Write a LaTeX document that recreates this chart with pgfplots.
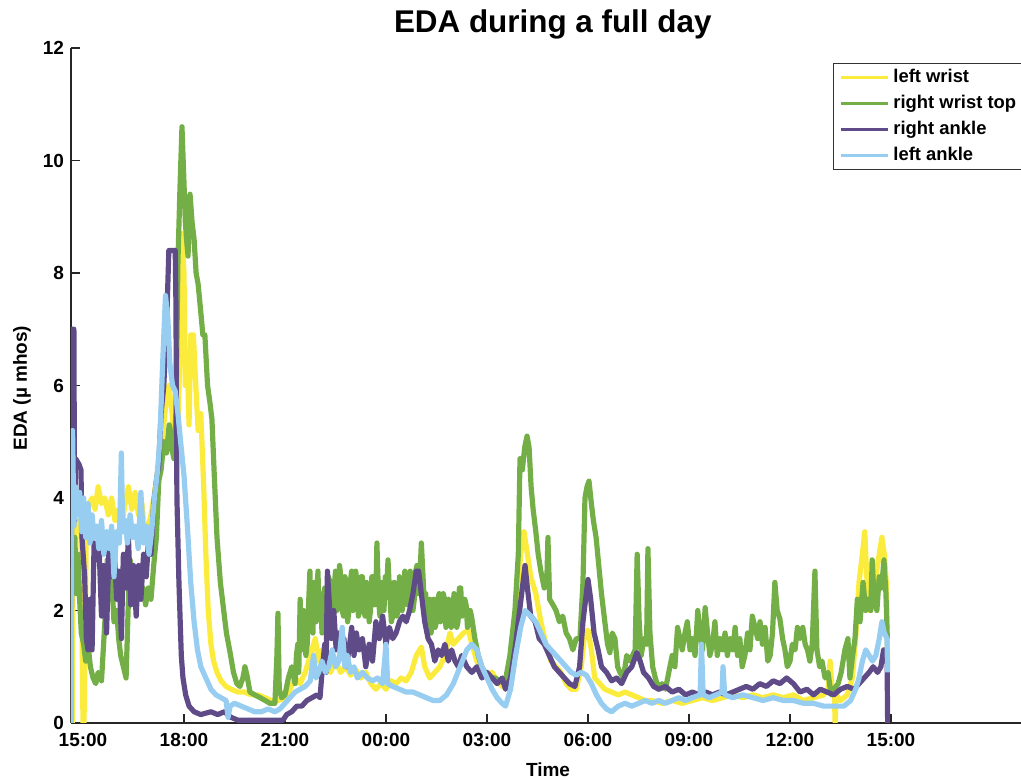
\documentclass[border=0pt]{standalone}
\usepackage{fontspec}
\setmainfont{Liberation Sans}
\usepackage{pgfplots}
\pgfplotsset{compat=1.18}
\definecolor{cyel}{RGB}{250,235,60}
\definecolor{cgrn}{RGB}{115,175,70}
\definecolor{cpur}{RGB}{95,75,135}
\definecolor{cblu}{RGB}{150,205,240}
\begin{document}
\begin{tikzpicture}
\begin{axis}[name=ax, scale only axis, width=477pt, height=337.5pt,
 xmin=-0.356, xmax=27.98, ymin=0, ymax=12,
 axis lines=left, axis line style={-, line width=0.6pt, black!85},
 tick align=inside, major tick length=4.5pt, tick style={black!85, line width=0.6pt},
 xtick={0,3,...,24}, xticklabels={15:00,18:00,21:00,00:00,03:00,06:00,09:00,12:00,15:00},
 ytick={0,2,...,12},
 /pgf/number format/assume math mode=true,
 ticklabel style={font=\fontsize{9.5}{11}\selectfont\bfseries},
 xticklabel style={anchor=base, yshift=-12pt},
 xlabel={Time},
 xlabel style={font=\fontsize{9.5}{11}\selectfont\bfseries, at={(axis description cs:0.5,0)}, anchor=base, yshift=-27pt},
 ylabel={EDA (µ mhos)},
 ylabel style={font=\fontsize{9.5}{11}\selectfont\bfseries, at={(axis description cs:-0.0514,0.496)}, anchor=center},
 title={EDA during a full day},
 title style={font=\fontsize{15.7}{19}\selectfont\bfseries, at={(axis description cs:0.505,1)}, anchor=base, yshift=1.8pt},
 legend style={at={(axis description cs:0.7987,0.9778)}, anchor=north west, draw=black!80, line width=0.5pt, fill=white,
   inner xsep=3pt, inner ysep=0.5pt, font=\fontsize{9.2}{11}\selectfont\bfseries,
   nodes={inner sep=2pt, text height=6.8pt, text depth=2.2pt}, row sep=0pt},
 legend cell align=left,
 legend image code/.code={\draw[#1, line width=1.5pt] (0pt,0pt) -- (23.5pt,0pt);},
 every axis plot/.append style={line width=2.6pt, line join=round},
]
% left wrist
\addplot[cyel] coordinates {
(-0.35,0) (-0.32,0) (-0.30,2.3) (-0.25,3.4) (-0.15,3.6) (-0.06,3.3) (-0.02,1.2) (0.00,0) (0.03,0) (0.06,1.2) (0.10,3.5) (0.18,3.9) (0.27,4.0) (0.36,3.8) (0.45,4.2) (0.55,3.9) (0.65,4.0) (0.75,3.7) (0.85,4.0) (0.95,3.6) (1.05,3.8) (1.15,3.5) (1.25,3.9) (1.35,4.2) (1.45,3.8) (1.55,4.1) (1.65,3.7) (1.75,3.9) (1.85,3.3) (1.95,3.5) (2.05,3.8) (2.15,4.2) (2.25,4.6) (2.35,5.0) (2.45,5.6) (2.55,6.0) (2.65,5.5) (2.72,4.8) (2.80,5.0) (2.88,6.5) (2.94,8.7) (3.00,8.0) (3.04,6.0) (3.09,6.6) (3.15,5.3) (3.20,6.9) (3.28,6.9) (3.35,6.0) (3.42,5.2) (3.50,5.5) (3.58,4.3) (3.65,3.0) (3.72,2.0) (3.80,1.4) (3.88,1.1) (3.98,0.9) (4.10,0.75) (4.25,0.65) (4.40,0.6) (4.60,0.55) (4.80,0.55) (5.00,0.5) (5.20,0.5) (5.40,0.45) (5.60,0.4) (5.80,0.4) (6.00,0.45) (6.15,0.6) (6.30,0.8) (6.45,0.7) (6.60,0.9) (6.75,1.2) (6.90,1.5) (7.00,1.1) (7.10,1.3) (7.20,1.0) (7.35,0.9) (7.50,1.1) (7.65,0.9) (7.80,1.0) (7.95,0.85) (8.10,0.95) (8.25,0.8) (8.40,0.9) (8.55,0.7) (8.70,0.6) (8.85,0.7) (9.00,0.6) (9.15,0.75) (9.30,0.7) (9.45,0.8) (9.60,0.75) (9.75,0.9) (9.90,1.2) (10.05,1.35) (10.15,1.0) (10.30,0.8) (10.45,0.9) (10.60,1.0) (10.75,1.2) (10.90,1.6) (11.00,1.4) (11.15,1.5) (11.30,1.6) (11.45,1.65) (11.55,1.4) (11.70,1.1) (11.85,0.9) (12.00,0.85) (12.15,0.9) (12.30,0.75) (12.45,0.65) (12.60,0.65) (12.75,1.2) (12.90,2.2) (13.00,3.0) (13.10,3.4) (13.20,3.0) (13.30,2.6) (13.45,2.3) (13.60,1.8) (13.75,1.4) (13.90,1.1) (14.05,1.0) (14.20,0.9) (14.35,0.7) (14.50,0.6) (14.65,0.6) (14.80,1.0) (14.90,1.6) (15.00,1.65) (15.10,1.3) (15.20,0.8) (15.35,0.7) (15.50,0.6) (15.70,0.55) (15.90,0.5) (16.10,0.55) (16.30,0.5) (16.50,0.45) (16.70,0.4) (16.90,0.4) (17.20,0.35) (17.50,0.4) (17.80,0.35) (18.10,0.4) (18.40,0.45) (18.70,0.4) (19.00,0.45) (19.30,0.5) (19.60,0.45) (19.90,0.5) (20.20,0.45) (20.50,0.5) (20.80,0.45) (21.10,0.5) (21.40,0.4) (21.70,0.45) (22.00,0.5) (22.13,0.6) (22.19,1.1) (22.25,0.6) (22.32,0.5) (22.34,0) (22.37,0.5) (22.50,0.4) (22.70,0.5) (22.85,0.8) (22.95,1.5) (23.05,2.5) (23.15,3.0) (23.22,3.4) (23.28,2.6) (23.35,2.0) (23.45,2.2) (23.55,2.6) (23.65,3.0) (23.73,3.3) (23.80,3.0) (23.86,2.5) (23.90,1.0)
};
\addlegendentry{left wrist}
% right wrist top
\addplot[cgrn] coordinates {
(-0.35,2.2) (-0.30,3.3) (-0.24,3.3) (-0.20,2.3) (-0.15,3.0) (-0.10,2.2) (-0.05,1.6) (0.02,1.4) (0.08,1.1) (0.15,1.4) (0.22,1.0) (0.30,0.8) (0.38,0.7) (0.45,0.9) (0.55,0.75) (0.65,1.8) (0.72,2.9) (0.78,2.2) (0.85,2.6) (0.92,1.8) (1.00,2.0) (1.06,1.5) (1.12,1.2) (1.20,1.0) (1.28,0.8) (1.35,2.2) (1.40,2.9) (1.48,2.6) (1.55,2.2) (1.62,2.5) (1.70,2.2) (1.78,2.4) (1.86,2.1) (1.94,2.4) (2.02,2.2) (2.10,2.8) (2.18,3.3) (2.25,4.3) (2.32,4.5) (2.40,5.0) (2.48,4.8) (2.56,5.3) (2.63,4.9) (2.70,4.7) (2.76,5.5) (2.82,8.2) (2.88,9.5) (2.94,10.6) (3.00,9.6) (3.04,8.9) (3.09,8.5) (3.12,8.3) (3.18,9.4) (3.24,8.9) (3.30,8.6) (3.36,8.0) (3.42,7.8) (3.50,7.3) (3.56,6.9) (3.62,6.9) (3.70,6.0) (3.77,5.7) (3.83,5.4) (3.90,4.4) (3.98,3.3) (4.08,2.5) (4.16,2.1) (4.26,1.6) (4.37,1.25) (4.47,0.9) (4.57,0.7) (4.66,0.65) (4.75,0.8) (4.81,1.0) (4.87,0.85) (4.96,0.55) (5.10,0.5) (5.26,0.45) (5.41,0.4) (5.55,0.35) (5.70,0.35) (5.76,1.2) (5.79,1.95) (5.83,0.6) (5.90,0.45) (6.00,0.5) (6.10,0.8) (6.20,1.0)
(6.30,0.7) (6.34,1.2) (6.38,1.4) (6.41,0.9) (6.45,2.2) (6.48,1.3) (6.52,1.5) (6.55,2.0) (6.59,1.8) (6.62,1.2) (6.66,1.4) (6.70,2.1) (6.74,2.7) (6.77,1.9) (6.80,2.2) (6.83,1.6) (6.86,2.5) (6.89,2.0) (6.92,1.8) (6.95,2.4) (6.98,2.7) (7.01,1.9) (7.04,2.3) (7.07,2.0) (7.10,1.6) (7.14,2.2) (7.18,2.4) (7.21,1.8) (7.25,2.0) (7.29,2.6) (7.34,2.5) (7.38,2.0) (7.42,1.8) (7.46,2.4) (7.50,2.7) (7.54,2.0) (7.58,2.2) (7.62,2.8) (7.66,2.6) (7.70,2.0) (7.74,1.9) (7.78,2.6) (7.82,2.5) (7.86,1.8) (7.90,2.0) (7.94,2.5) (7.98,2.7) (8.02,2.0) (8.06,2.1) (8.10,2.7) (8.14,2.5) (8.18,1.9) (8.22,2.0) (8.26,2.6) (8.30,2.6) (8.34,2.0) (8.38,1.9) (8.42,2.5) (8.46,2.4) (8.50,1.8) (8.54,2.0) (8.58,2.6) (8.62,2.6) (8.66,2.1) (8.70,2.3) (8.73,3.2) (8.76,2.6) (8.78,2.2) (8.82,1.9) (8.86,2.5) (8.90,2.2) (8.94,2.0) (8.98,2.6) (9.02,2.4) (9.06,2.9) (9.09,2.5) (9.12,2.2) (9.16,1.8) (9.20,1.9) (9.24,2.5) (9.28,2.4) (9.32,1.9) (9.36,2.0) (9.40,2.6) (9.44,2.5) (9.48,2.0) (9.52,2.2) (9.56,2.7) (9.60,2.6) (9.64,2.1) (9.68,2.3) (9.72,2.7) (9.76,2.5) (9.80,2.0) (9.84,2.2) (9.88,2.7) (9.92,2.8) (9.96,2.3) (10.00,2.5) (10.05,3.2) (10.10,2.6) (10.14,2.1) (10.18,2.3) (10.22,1.8) (10.26,1.9) (10.30,2.2) (10.34,1.6) (10.38,2.0) (10.42,2.2) (10.46,1.7) (10.50,1.8) (10.54,2.2) (10.58,2.3) (10.62,1.8) (10.66,1.9) (10.70,2.3) (10.74,2.2) (10.78,1.7) (10.82,1.8) (10.86,2.2) (10.90,2.1) (10.94,1.7) (10.98,1.9) (11.02,2.3) (11.06,2.2) (11.10,1.7) (11.14,1.8) (11.18,2.4) (11.22,2.4) (11.26,1.9) (11.30,2.0) (11.34,2.2) (11.38,2.1) (11.42,1.7) (11.46,1.8) (11.50,2.0) (11.54,1.9)
(11.64,1.5) (11.74,1.2) (11.84,1.0) (11.94,0.9) (12.09,0.8) (12.24,0.8) (12.39,0.75) (12.53,0.7) (12.68,1.2) (12.83,2.0) (12.93,3.0) (12.98,4.7) (13.05,4.5) (13.12,4.9) (13.19,5.1) (13.25,4.9) (13.31,4.2) (13.37,3.8) (13.45,3.4) (13.52,3.0) (13.60,2.7) (13.70,2.4) (13.78,2.6) (13.81,3.3) (13.86,2.2) (13.96,2.1) (14.05,2.0) (14.15,1.8) (14.25,1.9) (14.35,1.6) (14.45,1.5) (14.55,1.3) (14.65,1.5) (14.76,1.5) (14.85,2.5) (14.91,4.0) (14.97,4.2) (15.03,4.3) (15.10,3.9) (15.16,3.6) (15.24,3.3) (15.32,2.8) (15.40,2.3) (15.50,1.8) (15.58,1.4) (15.65,1.25) (15.72,1.6) (15.80,1.5) (15.88,1.0) (15.95,0.9) (16.05,0.8) (16.15,1.2) (16.25,1.1) (16.40,1.3) (16.46,3.0) (16.52,1.8) (16.58,1.2) (16.66,1.5) (16.74,1.4) (16.78,3.1) (16.84,1.6) (16.92,1.0) (17.00,0.8) (17.10,0.6) (17.20,0.7) (17.30,0.6) (17.40,0.9) (17.50,1.2) (17.58,1.0) (17.66,1.7) (17.73,1.5) (17.80,1.3) (17.88,1.6) (17.95,1.8) (18.03,1.3) (18.10,1.5) (18.18,1.2) (18.26,2.0) (18.33,1.6) (18.40,1.3) (18.48,2.05) (18.55,1.6) (18.62,1.2) (18.70,1.4) (18.77,1.8) (18.84,1.2) (18.92,1.5) (19.00,1.3) (19.07,1.6) (19.14,1.2) (19.22,1.5) (19.30,1.3) (19.37,1.7) (19.44,1.2) (19.51,1.5) (19.58,1.0) (19.66,1.2) (19.74,1.6) (19.81,1.3) (19.88,1.9) (19.96,1.7) (20.04,1.5) (20.11,1.8) (20.18,1.4) (20.26,1.7) (20.34,1.1) (20.41,1.2) (20.48,1.6) (20.55,2.5) (20.62,2.0) (20.70,1.85) (20.78,1.5) (20.85,1.3) (20.92,1.0) (21.00,1.1) (21.07,1.4) (21.15,1.3) (21.22,1.7) (21.30,1.5) (21.38,1.7) (21.45,1.4) (21.52,1.3) (21.59,1.1) (21.66,1.4) (21.74,2.7) (21.80,1.3) (21.88,1.0) (21.95,1.1) (22.04,0.8) (22.13,0.9) (22.22,0.5) (22.30,0.6) (22.43,0.7) (22.52,0.9) (22.63,1.3) (22.72,1.5) (22.78,0.8) (22.86,1.2) (22.93,1.5) (23.00,2.2) (23.08,1.8) (23.17,2.5) (23.25,2.0) (23.32,2.2) (23.40,2.0) (23.44,2.9) (23.50,2.2) (23.58,2.0) (23.65,2.6) (23.72,2.4) (23.79,2.9) (23.85,2.3) (23.89,1.5)
};
\addlegendentry{right wrist top}
% right ankle
\addplot[cpur] coordinates {
(-0.35,0) (-0.33,7.0) (-0.27,7.0) (-0.25,3.6) (-0.22,4.7) (-0.12,4.6) (-0.06,4.5) (-0.03,3.3) (0.05,2.6) (0.10,1.5) (0.15,1.3) (0.21,2.2) (0.27,1.3) (0.33,3.2) (0.40,2.9) (0.48,3.1) (0.55,1.9) (0.62,2.8) (0.70,1.6) (0.78,3.3) (0.85,2.6) (0.92,3.2) (1.00,2.2) (1.07,2.7) (1.14,1.5) (1.20,3.0) (1.28,2.4) (1.35,3.3) (1.42,2.1) (1.50,2.8) (1.58,1.9) (1.65,2.8) (1.72,2.2) (1.80,3.0) (1.88,2.6) (1.95,3.3) (2.02,3.0) (2.10,3.9) (2.18,4.3) (2.25,4.6) (2.32,5.5) (2.40,6.0) (2.48,7.0) (2.55,8.4) (2.74,8.4) (2.76,7.5) (2.79,4.0) (2.85,2.5) (2.92,1.2) (2.97,0.8) (3.05,0.5) (3.15,0.3) (3.30,0.2) (3.50,0.15) (3.80,0.2) (4.00,0.15) (4.20,0.2) (4.40,0.1) (4.60,0.05) (5.00,0.05) (5.50,0.05) (5.94,0.05) (6.05,0.15) (6.20,0.2) (6.35,0.3) (6.50,0.3) (6.65,0.4) (6.80,0.45) (6.95,0.5) (7.04,0.45) (7.10,0.9) (7.18,1.4) (7.22,0.9) (7.26,2.7) (7.32,2.1) (7.38,1.5) (7.45,2.0) (7.52,1.3) (7.60,1.6) (7.68,1.2) (7.75,1.5) (7.82,1.0) (7.90,1.3) (7.98,1.7) (8.05,1.2) (8.12,1.6) (8.20,1.3) (8.30,1.5) (8.40,1.0) (8.50,1.4) (8.60,1.1) (8.70,1.8) (8.80,1.5) (8.90,1.9) (9.00,1.4) (9.10,1.7) (9.20,1.5) (9.30,1.6) (9.40,1.8) (9.50,1.9) (9.60,1.8) (9.70,2.0) (9.80,2.3) (9.90,2.7) (9.97,2.7) (10.05,2.3) (10.15,1.8) (10.25,1.5) (10.35,1.4) (10.45,1.1) (10.55,1.3) (10.65,1.2) (10.75,1.4) (10.85,1.1) (10.95,1.3) (11.05,1.1) (11.15,1.0) (11.25,1.2) (11.40,1.0) (11.55,0.9) (11.70,1.0) (11.85,0.8) (12.00,0.9) (12.15,0.8) (12.30,0.7) (12.45,0.8) (12.55,0.6) (12.70,0.8) (12.85,1.4) (12.95,1.9) (13.05,2.4) (13.13,2.8) (13.20,2.4) (13.30,1.9) (13.43,1.8) (13.55,1.5) (13.70,1.4) (13.85,1.2) (14.00,1.0) (14.15,0.9) (14.30,0.8) (14.45,0.7) (14.61,0.65) (14.75,1.0) (14.85,1.8) (14.95,2.3) (15.00,2.55) (15.08,2.2) (15.18,1.6) (15.30,1.3) (15.40,1.0) (15.55,0.9) (15.70,0.75) (15.85,0.8) (16.00,0.7) (16.15,0.9) (16.30,1.0) (16.45,1.25) (16.55,1.1) (16.65,0.9) (16.80,0.8) (16.95,0.65) (17.10,0.6) (17.30,0.65) (17.50,0.55) (17.70,0.6) (17.90,0.5) (18.10,0.55) (18.30,0.5) (18.50,0.55) (18.70,0.5) (18.90,0.55) (19.10,0.5) (19.30,0.55) (19.50,0.6) (19.70,0.65) (19.90,0.6) (20.10,0.7) (20.30,0.65) (20.50,0.75) (20.70,0.7) (20.90,0.8) (21.10,0.7) (21.30,0.55) (21.50,0.6) (21.70,0.5) (21.90,0.6) (22.10,0.55) (22.30,0.5) (22.50,0.6) (22.70,0.65) (22.90,0.6) (23.05,0.7) (23.20,0.8) (23.35,0.9) (23.47,1.0) (23.60,0.9) (23.70,1.0) (23.78,1.3) (23.88,1.3) (23.90,0)
};
\addlegendentry{right ankle}
% left ankle
\addplot[cblu] coordinates {
(-0.35,0) (-0.34,3.6) (-0.31,5.2) (-0.27,3.5) (-0.22,4.2) (-0.16,3.7) (-0.10,4.1) (-0.04,3.4) (0.02,4.0) (0.08,3.3) (0.15,3.9) (0.21,3.2) (0.27,3.7) (0.33,3.3) (0.40,3.5) (0.47,3.1) (0.55,3.6) (0.62,3.0) (0.70,3.4) (0.78,3.1) (0.85,3.5) (0.92,2.6) (1.00,3.4) (1.08,3.2) (1.14,4.8) (1.18,3.4) (1.25,3.6) (1.32,3.2) (1.40,3.7) (1.48,3.3) (1.56,3.5) (1.64,3.1) (1.72,4.1) (1.80,3.2) (1.88,3.5) (1.96,3.0) (2.04,3.4) (2.12,4.0) (2.20,4.4) (2.28,5.0) (2.36,6.3) (2.45,7.6) (2.52,7.2) (2.58,6.4) (2.66,6.0) (2.74,5.9) (2.82,5.5) (2.90,5.0) (3.00,4.4) (3.10,3.5) (3.20,2.5) (3.30,1.8) (3.40,1.3) (3.50,1.0) (3.65,0.8) (3.80,0.6) (3.95,0.5) (4.10,0.45) (4.25,0.4) (4.31,0.1) (4.37,0.3) (4.50,0.35) (4.70,0.3) (4.90,0.25) (5.10,0.2) (5.30,0.2) (5.50,0.25) (5.70,0.2) (5.85,0.25) (6.00,0.35) (6.15,0.45) (6.30,0.55) (6.45,0.6) (6.60,0.65) (6.75,0.75) (6.85,1.2) (6.92,0.8) (7.00,0.9) (7.10,1.1) (7.20,0.9) (7.30,1.0) (7.40,1.3) (7.50,1.0) (7.60,1.1) (7.70,1.7) (7.78,1.0) (7.85,1.2) (7.95,0.9) (8.05,1.0) (8.15,0.8) (8.30,0.9) (8.45,0.8) (8.60,0.75) (8.75,0.8) (8.90,0.7) (9.00,1.4) (9.05,0.7) (9.20,0.65) (9.40,0.6) (9.60,0.55) (9.80,0.55) (10.00,0.5) (10.20,0.45) (10.40,0.4) (10.60,0.4) (10.80,0.5) (11.00,0.7) (11.20,1.0) (11.40,1.3) (11.55,1.4) (11.70,1.3) (11.85,1.0) (12.00,0.8) (12.15,0.6) (12.30,0.45) (12.45,0.35) (12.55,0.3) (12.70,0.6) (12.85,1.2) (13.00,1.7) (13.13,2.0) (13.30,1.9) (13.45,1.8) (13.60,1.6) (13.75,1.4) (13.90,1.3) (14.05,1.2) (14.20,1.1) (14.35,1.0) (14.50,0.9) (14.65,0.85) (14.80,0.9) (14.95,0.85) (15.10,0.7) (15.25,0.5) (15.40,0.35) (15.55,0.25) (15.70,0.2) (15.90,0.3) (16.10,0.35) (16.30,0.3) (16.50,0.35) (16.70,0.4) (16.90,0.35) (17.10,0.4) (17.30,0.35) (17.50,0.4) (17.70,0.45) (17.90,0.4) (18.10,0.45) (18.33,0.5) (18.37,1.4) (18.42,0.5) (18.60,0.45) (18.80,0.5) (18.98,0.55) (19.01,1.0) (19.06,0.5) (19.30,0.45) (19.60,0.5) (19.90,0.45) (20.20,0.4) (20.50,0.45) (20.80,0.4) (21.10,0.4) (21.40,0.35) (21.70,0.35) (22.00,0.3) (22.30,0.3) (22.60,0.3) (22.80,0.4) (22.95,0.6) (23.05,0.8) (23.15,1.1) (23.25,1.3) (23.35,1.2) (23.45,1.1) (23.55,1.2) (23.65,1.5) (23.73,1.8) (23.80,1.6) (23.88,1.5) (23.90,0.9)
};
\addlegendentry{left ankle}
\end{axis}
\pgfresetboundingbox
\useasboundingbox ([shift={(-35.5pt,-28.5pt)}]ax.south west) rectangle ([shift={(475pt,361.5pt)}]ax.south west);
\end{tikzpicture}
\end{document}
